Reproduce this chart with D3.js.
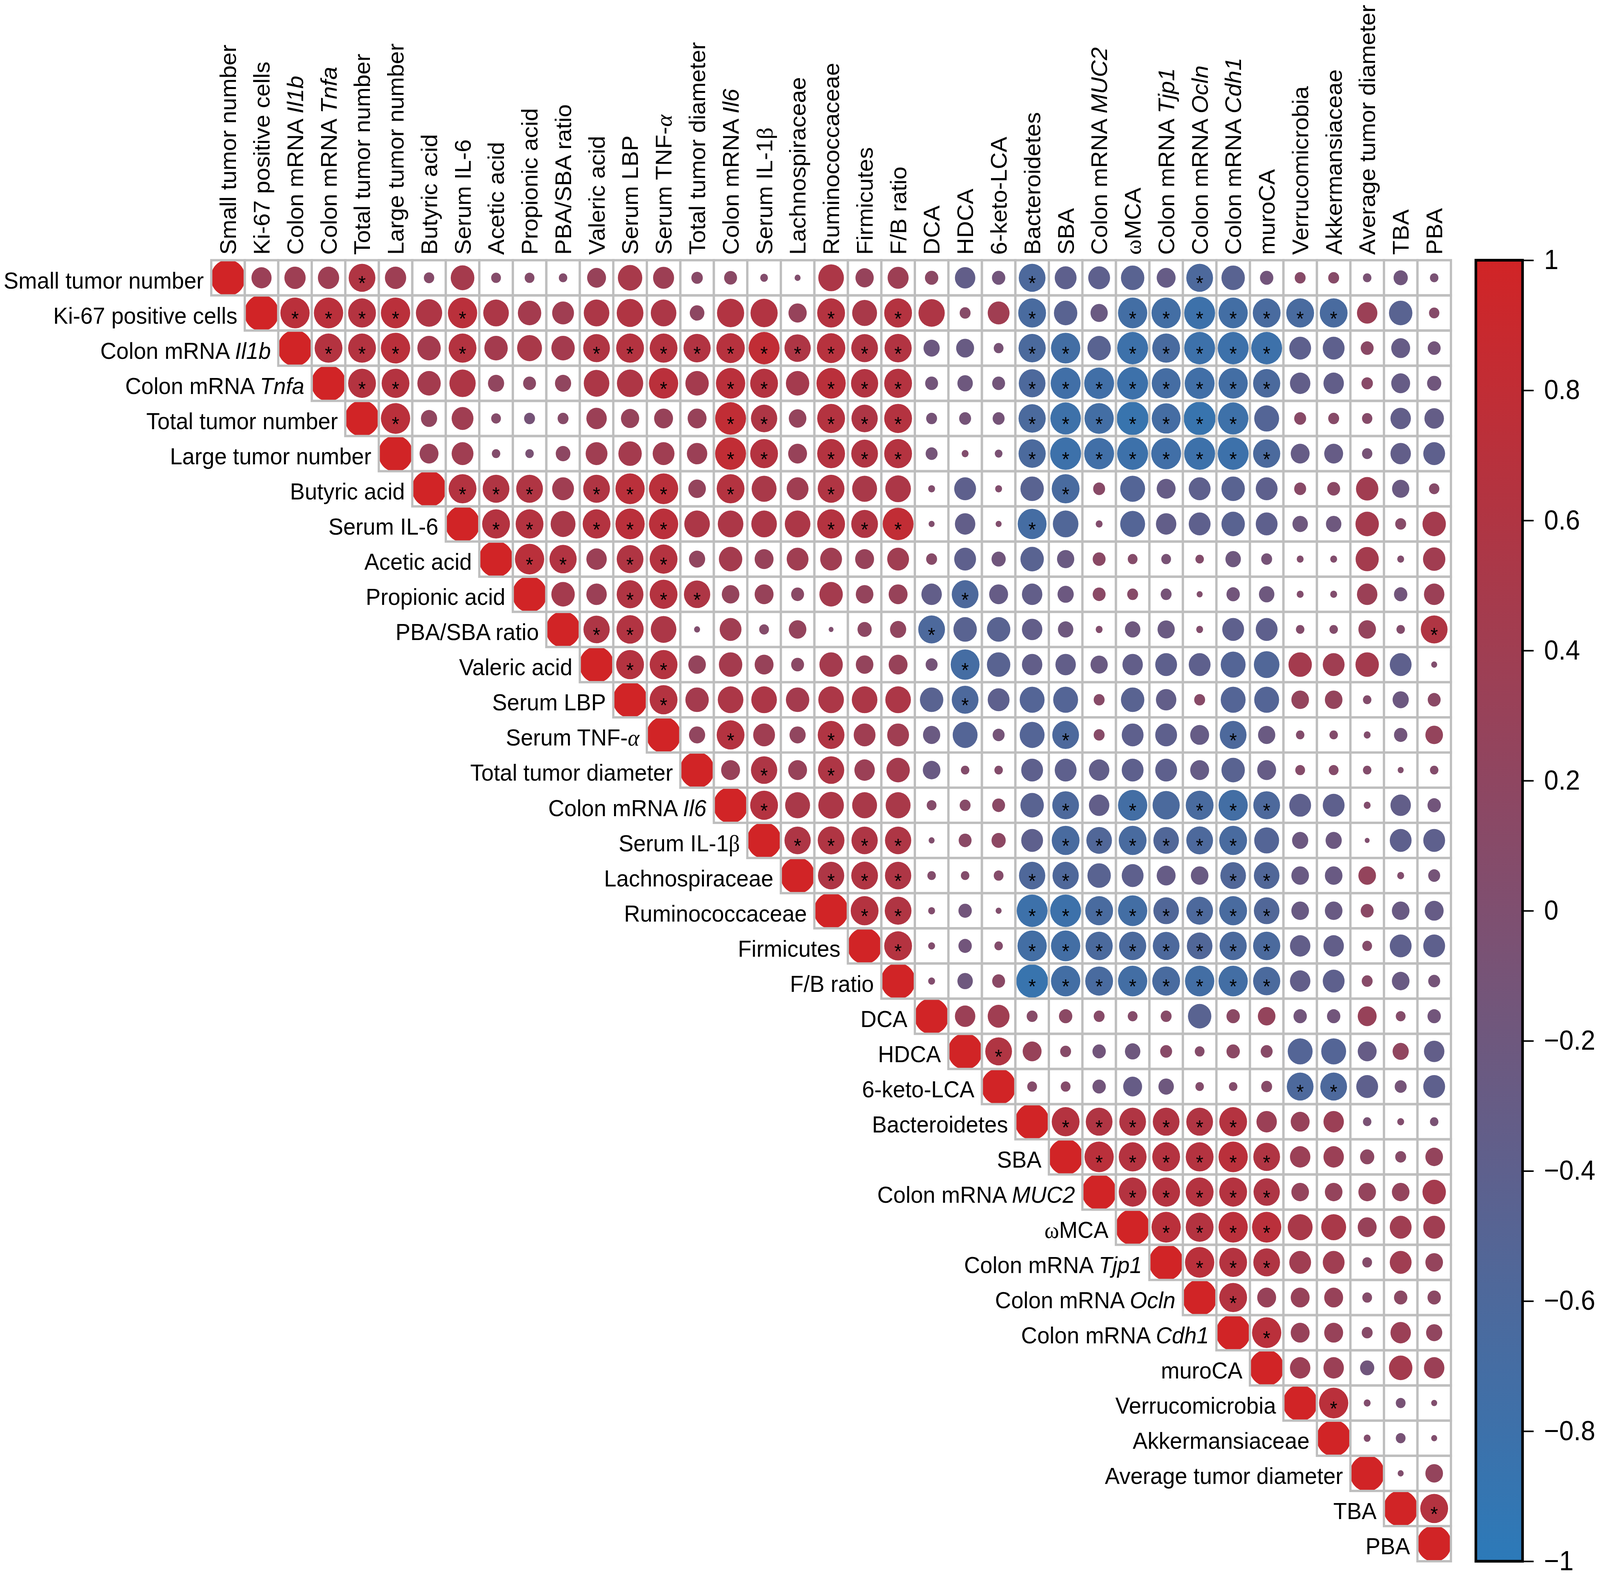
<!DOCTYPE html>
<html>
<head>
<meta charset="utf-8">
<script src="https://cdn.jsdelivr.net/npm/d3@7"></script>
<style>
  html, body { margin: 0; padding: 0; background: #ffffff; width: 100%; height: 100%; overflow: hidden; }
  svg { display: block; width: 100vw; height: 100vh; }
</style>
</head>
<body>
<script>
// ---------------- DATA ----------------
const variables = [
  "Small tumor number", "Ki-67 positive cells", "Colon mRNA Il1b", "Colon mRNA Tnfa",
  "Total tumor number", "Large tumor number", "Butyric acid", "Serum IL-6", "Acetic acid",
  "Propionic acid", "PBA/SBA ratio", "Valeric acid", "Serum LBP", "Serum TNF-α",
  "Total tumor diameter", "Colon mRNA Il6", "Serum IL-1β", "Lachnospiraceae",
  "Ruminococcaceae", "Firmicutes", "F/B ratio", "DCA", "HDCA", "6-keto-LCA",
  "Bacteroidetes", "SBA", "Colon mRNA MUC2", "ωMCA", "Colon mRNA Tjp1",
  "Colon mRNA Ocln", "Colon mRNA Cdh1", "muroCA", "Verrucomicrobia",
  "Akkermansiaceae", "Average tumor diameter", "TBA", "PBA"
];

const italicTerms = ["Il1b", "Tnfa", "Il6", "MUC2", "Tjp1", "Ocln", "Cdh1"];
const greekLetters = ["α", "β", "ω"];

// Upper triangle, row i holds correlations with columns i+1 .. 36
const corrRows = [
  [0.34,0.38,0.38,0.60,0.38,0.09,0.47,0.08,0.08,0.06,0.30,0.50,0.37,0.11,0.14,0.05,0.03,0.55,0.28,0.37,0.15,-0.35,-0.15,-0.60,-0.40,-0.40,-0.46,-0.30,-0.60,-0.46,-0.15,0.10,0.10,-0.06,-0.17,-0.06],
  [0.72,0.72,0.65,0.72,0.58,0.72,0.55,0.46,0.40,0.55,0.60,0.55,0.18,0.62,0.62,0.28,0.65,0.52,0.65,0.58,0.10,0.40,-0.65,-0.46,-0.25,-0.72,-0.72,-0.80,-0.72,-0.65,-0.65,-0.65,0.35,-0.46,0.09],
  [0.65,0.65,0.72,0.46,0.65,0.46,0.52,0.46,0.60,0.65,0.65,0.62,0.68,0.80,0.58,0.68,0.60,0.62,-0.22,-0.27,-0.08,-0.62,-0.72,-0.46,-0.80,-0.65,-0.80,-0.80,-0.80,-0.40,-0.40,0.14,-0.30,-0.14],
  [0.65,0.65,0.46,0.58,0.22,0.14,0.22,0.55,0.58,0.72,0.46,0.72,0.65,0.46,0.72,0.62,0.65,-0.14,-0.20,-0.14,-0.60,-0.75,-0.75,-0.80,-0.70,-0.75,-0.72,-0.62,-0.35,-0.35,0.11,-0.30,-0.17],
  [0.72,0.22,0.40,0.08,-0.10,0.10,0.35,0.28,0.30,0.30,0.80,0.58,0.26,0.65,0.58,0.65,-0.10,-0.12,-0.12,-0.62,-0.78,-0.72,-0.85,-0.70,-0.85,-0.78,-0.52,0.12,0.10,0.09,-0.35,-0.32],
  [0.30,0.40,0.06,-0.06,0.18,0.40,0.46,0.40,0.35,0.80,0.65,0.30,0.65,0.60,0.65,-0.12,0.04,-0.05,-0.62,-0.80,-0.75,-0.80,-0.75,-0.80,-0.80,-0.62,-0.30,-0.30,-0.09,-0.35,-0.40],
  [0.65,0.60,0.60,0.40,0.60,0.72,0.72,0.26,0.65,0.52,0.40,0.60,0.52,0.55,0.04,-0.40,0.04,-0.46,-0.65,0.12,-0.52,-0.30,-0.40,-0.46,-0.40,0.12,0.14,0.42,-0.25,0.09],
  [0.65,0.65,0.52,0.65,0.72,0.72,0.55,0.55,0.55,0.55,0.65,0.60,0.80,0.03,-0.35,0.03,-0.70,-0.55,0.04,-0.52,-0.35,-0.40,-0.46,-0.40,-0.20,-0.20,0.46,0.10,0.46],
  [0.72,0.62,0.35,0.60,0.65,0.22,0.46,0.30,0.40,0.40,0.30,0.40,0.10,-0.40,-0.17,-0.46,-0.25,0.14,0.08,-0.08,0.06,-0.20,-0.10,0.04,0.04,0.45,0.04,0.42],
  [0.46,0.35,0.60,0.65,0.58,0.26,0.30,0.14,0.46,0.26,0.30,-0.35,-0.60,-0.30,-0.35,-0.22,0.14,0.10,-0.10,0.03,-0.15,-0.20,0.04,0.04,0.35,-0.15,0.35],
  [0.58,0.62,0.55,0.03,0.40,0.08,0.26,0.02,0.17,0.22,-0.60,-0.46,-0.46,-0.35,-0.20,0.04,-0.20,-0.25,0.04,-0.40,-0.40,0.06,0.06,0.26,0.06,0.60],
  [0.65,0.65,0.26,0.46,0.30,0.14,0.46,0.26,0.30,-0.12,-0.70,-0.46,-0.35,-0.35,-0.25,-0.35,-0.40,-0.40,-0.52,-0.55,0.46,0.40,0.46,-0.40,0.03],
  [0.65,0.46,0.55,0.55,0.46,0.55,0.55,0.55,-0.46,-0.60,-0.40,-0.52,-0.52,0.10,-0.46,-0.35,0.10,-0.52,-0.52,0.26,0.26,0.06,-0.22,0.14],
  [0.22,0.65,0.40,0.22,0.60,0.40,0.40,-0.25,-0.52,-0.12,-0.52,-0.60,0.10,-0.40,-0.40,-0.30,-0.60,-0.25,0.06,0.06,0.04,-0.15,0.26],
  [0.30,0.58,0.30,0.58,0.35,0.46,-0.26,0.06,0.06,-0.40,-0.40,-0.35,-0.40,-0.40,-0.30,-0.46,-0.30,0.08,0.08,0.06,0.03,0.06],
  [0.65,0.52,0.55,0.52,0.52,0.08,0.10,0.14,-0.46,-0.60,-0.35,-0.72,-0.62,-0.65,-0.72,-0.60,-0.40,-0.40,0.04,-0.35,-0.15],
  [0.58,0.60,0.58,0.58,0.03,0.14,0.17,-0.40,-0.65,-0.55,-0.65,-0.55,-0.60,-0.65,-0.52,-0.22,-0.22,0.02,-0.40,-0.40],
  [0.58,0.60,0.58,0.06,0.06,0.08,-0.58,-0.58,-0.46,-0.40,-0.30,-0.26,-0.55,-0.55,-0.26,-0.26,0.26,0.04,-0.12],
  [0.65,0.60,0.04,-0.15,0.03,-0.80,-0.80,-0.65,-0.72,-0.55,-0.60,-0.65,-0.55,-0.26,-0.26,0.14,-0.26,-0.30],
  [0.65,0.04,-0.15,0.06,-0.72,-0.72,-0.62,-0.62,-0.60,-0.55,-0.62,-0.62,-0.35,-0.35,0.08,-0.40,-0.40],
  [0.04,-0.20,0.14,-0.85,-0.72,-0.65,-0.72,-0.65,-0.72,-0.72,-0.62,-0.35,-0.40,0.10,-0.26,-0.12],
  [0.35,0.40,0.10,0.15,0.10,0.08,0.10,-0.46,0.15,0.26,-0.15,-0.15,0.30,0.08,-0.15],
  [0.60,0.30,0.10,-0.15,-0.20,0.12,0.08,0.15,0.12,-0.52,-0.52,-0.30,0.22,-0.35],
  [0.08,0.08,-0.15,-0.30,-0.20,0.06,0.06,0.10,-0.60,-0.60,-0.40,-0.12,-0.40],
  [0.65,0.60,0.60,0.60,0.60,0.65,0.35,0.30,0.35,-0.06,0.04,-0.06],
  [0.72,0.65,0.65,0.65,0.72,0.60,0.35,0.35,0.17,0.10,0.26],
  [0.65,0.65,0.65,0.65,0.58,0.26,0.26,0.26,0.26,0.46],
  [0.72,0.65,0.72,0.72,0.52,0.52,0.30,0.40,0.40],
  [0.72,0.65,0.60,0.40,0.40,0.08,0.40,0.26],
  [0.65,0.30,0.30,0.30,0.08,0.15,0.15],
  [0.72,0.30,0.30,0.10,0.35,0.22],
  [0.35,0.35,-0.17,0.46,0.35],
  [0.72,0.04,-0.08,0.03],
  [0.04,-0.08,0.03],
  [0.03,0.26],
  [0.65],
  []
];

// Column indices flagged with "*" (p < 0.05) per row
const sigRows = [
  [4,24,29],
  [2,3,4,5,7,18,20,24,27,28,29,30,31,32,33],
  [3,4,5,7,11,12,13,14,15,16,17,18,19,20,24,25,27,28,29,30,31],
  [4,5,13,15,16,18,19,20,24,25,26,27,28,29,30,31],
  [5,15,16,18,19,20,24,25,26,27,28,29,30],
  [15,16,18,19,20,24,25,26,27,28,29,30,31],
  [7,8,9,11,12,13,15,18,25],
  [8,9,11,12,13,18,19,20,24],
  [9,10,12,13],
  [12,13,14,22],
  [11,12,21,36],
  [12,13,22],
  [13,22],
  [15,18,25,30],
  [16,18],
  [16,25,27,29,30,31],
  [17,18,19,20,25,26,27,28,29,30],
  [18,19,20,24,25,30,31],
  [19,20,24,25,26,27,28,29,30,31],
  [20,24,25,26,27,28,29,30,31],
  [24,25,26,27,28,29,30,31],
  [],
  [23],
  [32,33],
  [25,26,27,28,29,30],
  [26,27,28,29,30,31],
  [27,28,29,30,31],
  [28,29,30,31],
  [29,30,31],
  [30],
  [31],
  [],
  [33],
  [],
  [],
  [36],
  []
];

const legendTicks = [1, 0.8, 0.6, 0.4, 0.2, 0, -0.2, -0.4, -0.6, -0.8, -1];

// ---------------- LAYOUT ----------------
const W = 4317, H = 4062;
const N = variables.length;
const X0 = 570, Y0 = 669, CELL = 90.4;
const FONT = "'Liberation Sans', Arial, Helvetica, sans-serif";

const svg = d3.select("body").append("svg")
  .attr("viewBox", `0 0 ${W} ${H}`)
  .attr("preserveAspectRatio", "none");
svg.append("rect").attr("width", W).attr("height", H).attr("fill", "#ffffff");

const x = d3.scaleBand().domain(d3.range(N)).range([X0, X0 + N * CELL]).padding(0);
const y = d3.scaleBand().domain(d3.range(N)).range([Y0, Y0 + N * CELL]).padding(0);
const color = d3.scaleLinear().domain([-1, 1]).range(["#2C7AB9", "#D12426"]).interpolate(d3.interpolateRgb);
const radius = d3.scaleSqrt().domain([0, 1]).range([0, CELL * 0.515]);

// build cells from the data arrays
const cells = [];
variables.forEach((v, i) => {
  for (let j = i; j < N; j++) {
    const val = (i === j) ? 1 : corrRows[i][j - i - 1];
    cells.push({ i, j, val, star: sigRows[i].includes(j) });
  }
});

const defs = svg.append("defs");
defs.append("clipPath").attr("id", "gridClip")
  .append("rect").attr("x", X0).attr("y", Y0).attr("width", N * CELL).attr("height", N * CELL);

const gCells = svg.append("g").attr("clip-path", "url(#gridClip)");
gCells.selectAll("circle").data(cells).join("circle")
  .attr("cx", d => x(d.j) + x.bandwidth() / 2)
  .attr("cy", d => y(d.i) + y.bandwidth() / 2)
  .attr("r", d => radius(Math.abs(d.val)))
  .attr("fill", d => color(d.val));

// grid on top
svg.append("g").selectAll("rect").data(cells).join("rect")
  .attr("x", d => x(d.j)).attr("y", d => y(d.i))
  .attr("width", x.bandwidth()).attr("height", y.bandwidth())
  .attr("fill", "none").attr("stroke", "#BEBEBE").attr("stroke-width", 6);

// significance stars
const STAR = 52;
svg.append("g").selectAll("text").data(cells.filter(d => d.star && d.i !== d.j)).join("text")
  .attr("x", d => x(d.j) + x.bandwidth() / 2)
  .attr("y", d => y(d.i) + y.bandwidth() / 2 + STAR * 0.62)
  .attr("text-anchor", "middle")
  .attr("font-family", FONT).attr("font-size", STAR).attr("fill", "#000")
  .text("*");

// label rendering with italic gene names and serif greek letters
function addLabel(sel, label) {
  const it = italicTerms.find(t => label.endsWith(" " + t));
  let parts = [];
  if (it) {
    parts.push({ t: label.slice(0, label.length - it.length), style: "normal" });
    parts.push({ t: it, style: "italic" });
  } else {
    let buf = "";
    for (const ch of label) {
      if (greekLetters.includes(ch)) {
        if (buf) parts.push({ t: buf, style: "normal" });
        parts.push({ t: ch, style: "greek", italic: ch === "α" });
        buf = "";
      } else buf += ch;
    }
    if (buf) parts.push({ t: buf, style: "normal" });
  }
  parts.forEach(p => {
    const ts = sel.append("tspan").text(p.t);
    if (p.style === "italic") ts.attr("font-style", "italic");
    if (p.style === "greek") {
      ts.attr("font-family", "'Liberation Serif', 'DejaVu Serif', serif");
      if (p.italic) ts.attr("font-style", "italic");
    }
  });
}

const LABEL = 60;
// row labels
const rowG = svg.append("g").attr("font-family", FONT).attr("font-size", LABEL).attr("fill", "#000");
variables.forEach((v, i) => {
  const t = rowG.append("text")
    .attr("x", x(i) - 20)
    .attr("y", y(i) + y.bandwidth() / 2 + 0.36 * LABEL + 6)
    .attr("text-anchor", "end");
  addLabel(t, v);
});

// column labels (rotated)
const colG = svg.append("g").attr("font-family", FONT).attr("font-size", LABEL).attr("fill", "#000");
variables.forEach((v, j) => {
  const cx = x(j) + x.bandwidth() / 2 + 0.36 * LABEL;
  const t = colG.append("text")
    .attr("transform", `translate(${cx},${Y0 - 14}) rotate(-90)`)
    .attr("text-anchor", "start");
  addLabel(t, v);
});

// ---------------- COLOUR LEGEND ----------------
const LX0 = 3982, LX1 = 4108;
const ly = d3.scaleLinear().domain([-1, 1]).range([Y0 + N * CELL, Y0]);
const grad = defs.append("linearGradient").attr("id", "cbar")
  .attr("x1", 0).attr("y1", 0).attr("x2", 0).attr("y2", 1);
legendTicks.forEach(v => {
  grad.append("stop").attr("offset", (1 - v) / 2).attr("stop-color", color(v));
});
svg.append("rect")
  .attr("x", LX0).attr("y", ly(1)).attr("width", LX1 - LX0).attr("height", ly(-1) - ly(1))
  .attr("fill", "url(#cbar)")
  .attr("stroke", "#000").attr("stroke-width", 7);
const axis = d3.axisRight(ly).tickValues(legendTicks).tickSize(30).tickPadding(28)
  .tickFormat(d3.format("~g"));
const axG = svg.append("g").attr("transform", `translate(${LX1},0)`).call(axis);
axG.select(".domain").remove();
axG.selectAll(".tick line").attr("stroke", "#000").attr("stroke-width", 4);
axG.selectAll(".tick text").attr("font-family", FONT).attr("font-size", 70).attr("fill", "#000");
</script>
</body>
</html>
